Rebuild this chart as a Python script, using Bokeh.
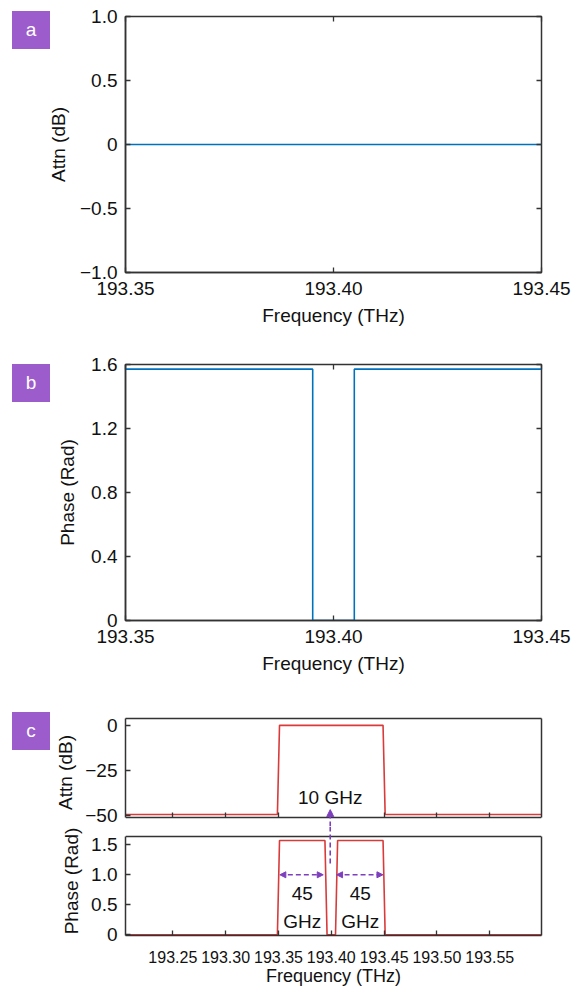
from bokeh.plotting import figure
from bokeh.layouts import column
from bokeh.models import Range1d, LinearAxis, FixedTicker, Arrow, NormalHead, Div
from bokeh.core.properties import value
from bokeh.embed import file_html
from bokeh.resources import INLINE

FONT = "Liberation Sans"
BLUE = "#0072BD"
RED = "#D93A3A"
PURPLE = "#7E3FBF"
BOX = "#9C5CCB"
FRAME = "#333333"
TXT = "#111111"

# ---------------- data ----------------
# panel a
a_freq = [193.35, 193.45]
a_attn = [0.0, 0.0]
a_xticks = [193.35, 193.40, 193.45]
a_xlabels = ["193.35", "193.40", "193.45"]
a_yticks = [-1.0, -0.5, 0.0, 0.5, 1.0]
a_ylabels = ["\u22121.0", "\u22120.5", "0", "0.5", "1.0"]

# panel b
b_freq = [193.35, 193.395, 193.395, 193.405, 193.405, 193.45]
b_phase = [1.5708, 1.5708, 0.0, 0.0, 1.5708, 1.5708]
b_yticks = [0.0, 0.4, 0.8, 1.2, 1.6]
b_ylabels = ["0", "0.4", "0.8", "1.2", "1.6"]

# panel c
c_attn_freq = [193.2052, 193.349, 193.351, 193.449, 193.451, 193.599]
c_attn = [-49.6, -49.6, 0.0, 0.0, -49.6, -49.6]
c_phase_freq = [193.2052, 193.349, 193.351, 193.394, 193.396,
                193.404, 193.406, 193.449, 193.451, 193.599]
c_phase = [0.0, 0.0, 1.5708, 1.5708, 0.0, 0.0, 1.5708, 1.5708, 0.0, 0.0]
c_xticks = [193.25, 193.30, 193.35, 193.40, 193.45, 193.50, 193.55]
c_xlabels = ["193.25", "193.30", "193.35", "193.40", "193.45", "193.50", "193.55"]
c_attn_yticks = [-50.0, -25.0, 0.0]
c_attn_ylabels = ["\u221250", "\u221225", "0"]
c_phase_yticks = [0.0, 0.5, 1.0, 1.5]
c_phase_ylabels = ["0", "0.5", "1.0", "1.5"]

# axis extents of panel c boxes and the drawable area that also covers the gap
c_x = (193.2052, 193.599)
c_attn_box = (-51.3, 3.8)
c_attn_view = (-56.3, 3.8)
c_phase_box = (-0.012, 1.638)
c_phase_view = (-0.012, 1.805)

# annotations (panel c)
gap_label = "10 GHz"
gap_x = 193.399
gap_text_y = -40.2
gap_head_y = -46.9
gap_tail_phase = 1.19
band_labels = ["45", "45"]
band_units = ["GHz", "GHz"]
band_text_x = [193.3725, 193.4275]
band_num_y = [0.683, 0.683]
band_unit_y = [0.215, 0.215]
band_arrow_start = [193.3513, 193.4050]
band_arrow_end = [193.3924, 193.4489]
band_arrow_y = 1.0

# panel tags
tag_texts = ["a", "b", "c"]
tag_left = [12, 12, 12]
tag_top = [11, 364, 712]

W = 573
LEFT = 125
RIGHT = 32


def style_axis(ax, ticks, labels, fs="19px", label_fs="19px"):
    ax.ticker = FixedTicker(ticks=ticks)
    ax.major_label_overrides = {t: l for t, l in zip(ticks, labels)}
    ax.major_tick_in = 5
    ax.major_tick_out = 0
    ax.minor_tick_line_color = None
    ax.major_tick_line_color = FRAME
    ax.major_tick_line_width = 1.3
    ax.axis_line_color = FRAME
    ax.axis_line_width = 1.5
    ax.major_label_text_font = FONT
    ax.major_label_text_font_size = fs
    ax.major_label_text_color = TXT
    ax.axis_label_text_font = FONT
    ax.axis_label_text_font_style = "normal"
    ax.axis_label_text_font_size = label_fs
    ax.axis_label_text_color = TXT


def mirror(p, ticks, side, line=None, bounds="auto", fixed=None):
    ax = LinearAxis(ticker=FixedTicker(ticks=ticks),
                    major_label_overrides={t: "" for t in ticks},
                    major_label_text_font_size="1px",
                    major_label_standoff=0,
                    major_tick_in=5, major_tick_out=0,
                    major_tick_line_color=FRAME, major_tick_line_width=1.3,
                    minor_tick_line_color=None, axis_line_color=line,
                    axis_line_width=1.5, bounds=bounds)
    if fixed is not None:
        ax.fixed_location = fixed
    p.add_layout(ax, side)


def make_fig(h, top, bottom, xr, yr, outline=True):
    p = figure(width=W, height=h, x_range=Range1d(*xr), y_range=Range1d(*yr),
               output_backend="svg", toolbar_location=None,
               min_border_left=LEFT, min_border_right=RIGHT,
               min_border_top=top, min_border_bottom=bottom)
    p.grid.visible = False
    p.outline_line_color = FRAME if outline else None
    p.outline_line_width = 1.5
    p.background_fill_color = "white"
    p.border_fill_color = "white"
    return p


# ---------------- panel a ----------------
pa = make_fig(342, 16, 70, (193.35, 193.45), (-1.0, 1.0))
pa.line(a_freq, a_attn, line_color=BLUE, line_width=1.6)
style_axis(pa.xaxis[0], a_xticks, a_xlabels)
style_axis(pa.yaxis[0], a_yticks, a_ylabels)
pa.xaxis.axis_label = "Frequency (THz)"
pa.yaxis.axis_label = "Attn (dB)"
pa.xaxis.major_label_standoff = 9
pa.xaxis.axis_label_standoff = 7
pa.yaxis.major_label_standoff = 8
pa.yaxis.axis_label_standoff = 8
mirror(pa, a_xticks, "above")
mirror(pa, a_yticks, "right")

# ---------------- panel b ----------------
pb = make_fig(348, 22, 70, (193.35, 193.45), (0.0, 1.6))
pb.line(b_freq, b_phase, line_color=BLUE, line_width=1.6)
style_axis(pb.xaxis[0], a_xticks, a_xlabels)
style_axis(pb.yaxis[0], b_yticks, b_ylabels)
pb.xaxis.axis_label = "Frequency (THz)"
pb.yaxis.axis_label = "Phase (Rad)"
pb.xaxis.major_label_standoff = 9
pb.xaxis.axis_label_standoff = 7
pb.yaxis.major_label_standoff = 8
pb.yaxis.axis_label_standoff = 10
mirror(pb, a_xticks, "above")
mirror(pb, b_yticks, "right")

# ---------------- panel c (top) ----------------
pc1 = make_fig(136, 28, 0, c_x, c_attn_view, outline=False)
pc1.line(c_attn_freq, c_attn, line_color=RED, line_width=1.6)
style_axis(pc1.xaxis[0], c_xticks, ["" for _ in c_xlabels], fs="1px")
pc1.xaxis.major_label_standoff = 0
pc1.xaxis.fixed_location = c_attn_box[0]
style_axis(pc1.yaxis[0], c_attn_yticks, c_attn_ylabels)
pc1.yaxis.bounds = c_attn_box
pc1.yaxis.axis_label = "Attn (dB)"
pc1.yaxis.major_label_standoff = 8
pc1.yaxis.axis_label_standoff = 6
mirror(pc1, [], "right", line=FRAME, bounds=c_attn_box)
mirror(pc1, [], "above", line=FRAME)
pc1.text(x=[gap_x], y=[gap_text_y], text=[gap_label], text_align="center",
         text_baseline="middle", text_font=value(FONT), text_font_size="19px",
         text_color=TXT)
pc1.add_layout(Arrow(x_start=gap_x, y_start=c_attn_view[0], x_end=gap_x, y_end=gap_head_y,
                     start=None,
                     end=NormalHead(size=7, fill_color=PURPLE, line_color=PURPLE),
                     line_color=PURPLE, line_width=1.6, line_dash="5 3"))

# ---------------- panel c (bottom) ----------------
pc2 = make_fig(164, 0, 55, c_x, c_phase_view, outline=False)
pc2.line(c_phase_freq, c_phase, line_color=RED, line_width=1.6)
style_axis(pc2.xaxis[0], c_xticks, c_xlabels, fs="16px", label_fs="18px")
style_axis(pc2.yaxis[0], c_phase_yticks, c_phase_ylabels)
pc2.yaxis.bounds = c_phase_box
pc2.xaxis.axis_label = "Frequency (THz)"
pc2.yaxis.axis_label = "Phase (Rad)"
pc2.xaxis.major_label_standoff = 15
pc2.xaxis.axis_label_standoff = 0
pc2.yaxis.major_label_standoff = 8
pc2.yaxis.axis_label_standoff = 6
mirror(pc2, [], "right", line=FRAME, bounds=c_phase_box)
mirror(pc2, [], "above", line=FRAME, fixed=c_phase_box[1])
pc2.add_layout(Arrow(x_start=gap_x, y_start=gap_tail_phase, x_end=gap_x, y_end=c_phase_view[1],
                     start=None, end=None,
                     line_color=PURPLE, line_width=1.6, line_dash="5 3"))
for xs, xe in zip(band_arrow_start, band_arrow_end):
    pc2.add_layout(Arrow(x_start=xs, y_start=band_arrow_y, x_end=xe, y_end=band_arrow_y,
                         start=NormalHead(size=6, fill_color=PURPLE, line_color=PURPLE),
                         end=NormalHead(size=6, fill_color=PURPLE, line_color=PURPLE),
                         line_color=PURPLE, line_width=1.6, line_dash="5 3"))
pc2.text(x=band_text_x, y=band_num_y, text=band_labels, text_align="center",
         text_baseline="middle", text_font=value(FONT), text_font_size="19px",
         text_color=TXT)
pc2.text(x=band_text_x, y=band_unit_y, text=band_units, text_align="center",
         text_baseline="middle", text_font=value(FONT), text_font_size="19px",
         text_color=TXT)

# ---------------- panel tags ----------------
tag_html = "".join(
    '<div style="position:fixed;left:%dpx;top:%dpx;width:38px;height:38px;'
    'background:%s;color:#ffffff;font-family:\'Liberation Sans\',sans-serif;'
    'font-size:19px;line-height:38px;text-align:center;z-index:10;">%s</div>'
    % (x, y, BOX, t)
    for t, x, y in zip(tag_texts, tag_left, tag_top))
tags = Div(text=tag_html, width=0, height=0)

layout = column(pa, pb, pc1, pc2, spacing=0)
open("out.html", "w").write(file_html([layout, tags], INLINE))
